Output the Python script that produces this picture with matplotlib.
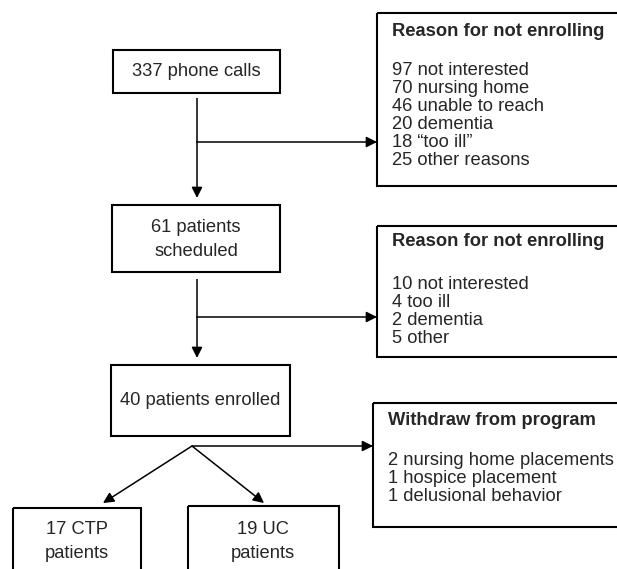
import matplotlib.pyplot as plt
from matplotlib.patches import Rectangle

plt.rcParams['font.family'] = ['Liberation Sans', 'DejaVu Sans']

# Flow numbers
total_calls = 337
scheduled = 61
enrolled = 40
ctp_patients = 17
uc_patients = 19

# Reasons after phone calls
call_counts = [97, 70, 46, 20, 18, 25]
call_reasons = ['not interested', 'nursing home', 'unable to reach',
                'dementia', '\u201ctoo ill\u201d', 'other reasons']

# Reasons after scheduling
sched_counts = [10, 4, 2, 5]
sched_reasons = ['not interested', 'too ill', 'dementia', 'other']

# Withdrawals
withdraw_counts = [2, 1, 1]
withdraw_reasons = ['nursing home placements', 'hospice placement',
                    'delusional behavior']

W, H = 617, 569
fig = plt.figure(figsize=(W / 100, H / 100), dpi=100)
ax = fig.add_axes([0, 0, 1, 1])
ax.set_xlim(0, W)
ax.set_ylim(H, 0)
ax.axis('off')

FS = 13.2
TXT = '#262626'
BOX_LW = 1.5
LINE_LW = 1.1


def box(x0, y0, x1, y1):
    ax.add_patch(Rectangle((x0, y0), x1 - x0, y1 - y0, fill=False,
                           edgecolor='black', lw=BOX_LW, clip_on=True))


def arrow(x0, y0, x1, y1):
    ax.annotate('', xy=(x1, y1), xytext=(x0, y0),
                arrowprops=dict(arrowstyle='-|>', color='black', lw=LINE_LW,
                                mutation_scale=16, shrinkA=0, shrinkB=0))


def line(xs, ys):
    ax.plot(xs, ys, color='black', lw=LINE_LW, solid_capstyle='butt')


def center_text(x, y, s):
    ax.text(x, y, s, ha='center', va='center', fontsize=FS, color=TXT)


def list_box(x0, y0, y1, title, title_y, counts, reasons, first_y, step=18):
    box(x0, y0, 650, y1)
    ax.text(x0 + 15, title_y, title, ha='left', va='center', fontsize=FS,
            fontweight='bold', color=TXT)
    for i, (c, r) in enumerate(zip(counts, reasons)):
        ax.text(x0 + 15, first_y + i * step, f'{c} {r}', ha='left',
                va='center', fontsize=FS, color=TXT)


# main column
box(113, 50, 280, 93)
center_text(196, 71, f'{total_calls} phone calls')

line([197, 197], [98, 142])
arrow(197, 142, 197, 198)
arrow(197, 142, 377, 142)

list_box(377, 13, 186, 'Reason for not enrolling', 31,
         call_counts, call_reasons, 70)

box(112, 205, 280, 272)
center_text(196, 227, f'{scheduled} patients')
center_text(196, 251, 'scheduled')

line([197, 197], [279, 317])
arrow(197, 317, 197, 358)
arrow(197, 317, 377, 317)

list_box(377, 226, 357, 'Reason for not enrolling', 241,
         sched_counts, sched_reasons, 284)

box(111, 365, 290, 436)
center_text(200, 400, f'{enrolled} patients enrolled')

# split
line([192, 373], [446, 446])
arrow(367, 446, 373, 446)
arrow(192, 446, 103, 503)
arrow(192, 446, 264, 503)

list_box(373, 403, 527, 'Withdraw from program', 420,
         withdraw_counts, withdraw_reasons, 460)

box(13, 508, 141, 600)
center_text(77, 530, f'{ctp_patients} CTP')
center_text(77, 553, 'patients')

box(188, 506, 339, 600)
center_text(263, 530, f'{uc_patients} UC')
center_text(263, 553, 'patients')

fig.savefig('out.png', dpi=100, facecolor='white')
